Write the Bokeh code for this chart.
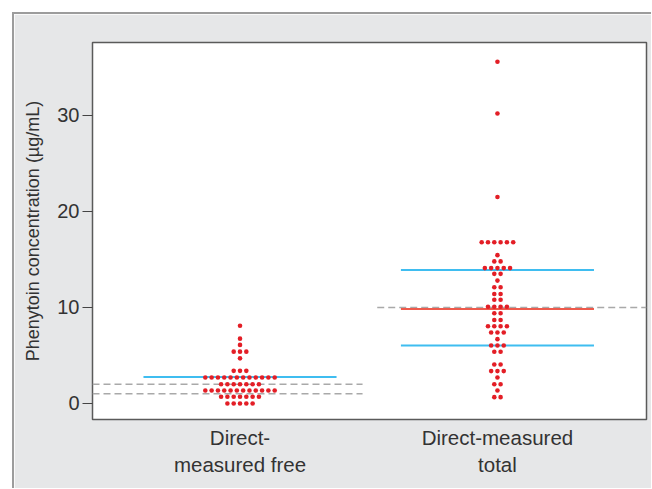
from bokeh.plotting import figure
from bokeh.models import FixedTicker, Range1d, Spacer
from bokeh.layouts import column, row
from bokeh.embed import file_html
from bokeh.resources import INLINE

# ---- data ----
categories = ["Direct-\nmeasured free", "Direct-measured\ntotal"]
free_values = ([8.1] + [6.75] + [6.1] + [5.4] * 3 + [4.7] + [3.4] * 3 + [2.7] * 12 +
               [2.0] * 7 + [1.35] * 12 + [0.7] * 7 + [0.0] * 5)
total_values = ([35.6] + [30.2] + [21.5] + [16.8] * 6 + [15.45] + [14.8] * 2 + [14.1] * 5 +
                [13.5] * 2 + [12.8] + [12.1] * 2 + [11.4] * 2 + [10.8] * 2 + [10.07] * 4 +
                [9.4] * 2 + [8.7] * 2 + [8.05] * 4 + [7.4] * 3 + [6.7] + [6.04] * 3 +
                [5.38] * 2 + [4.06] * 2 + [3.37] * 3 + [2.7] + [2.0] * 2 + [1.35] + [0.66] * 2)
free_center = [2.75]
total_center = [9.85]
total_quartiles = [6.05, 13.9]
free_reference = [1.0, 2.0]
total_reference = [10.0]
y_ticks = [0, 10, 20, 30]

DOT_STEP = 0.0245  # horizontal spacing of stacked dots in category units


def swarm(values, cat):
    xs, ys = [], []
    rows = {}
    for v in values:
        rows[v] = rows.get(v, 0) + 1
    for v, n in rows.items():
        for i in range(n):
            xs.append(cat + (i - (n - 1) / 2) * DOT_STEP)
            ys.append(v)
    return xs, ys


fx, fy = swarm(free_values, 1)
tx, ty = swarm(total_values, 2)

p = figure(width=639, height=476, output_backend="svg", toolbar_location=None,
           x_range=Range1d(0.427, 2.579), y_range=Range1d(-1.67, 37.6),
           min_border_left=78, min_border_top=28, min_border_right=7, min_border_bottom=71)
p.border_fill_color = "#e6e7e8"
p.background_fill_color = "white"
p.outline_line_color = "#5a5a5a"
p.outline_line_width = 1.5
p.grid.visible = False

HALF = 0.375
grey = "#a9a9a9"
for r in free_reference:
    p.segment(x0=[0.427], x1=[1.476], y0=[r], y1=[r], line_color=grey,
              line_width=1.5, line_dash="7 4")
for r in total_reference:
    p.segment(x0=[1.533], x1=[2.579], y0=[r], y1=[r], line_color=grey,
              line_width=1.5, line_dash="7 4")

cyan = "#3fbdf0"
p.segment(x0=[1 - HALF], x1=[1 + HALF], y0=free_center, y1=free_center,
          line_color=cyan, line_width=2)
p.segment(x0=[2 - HALF] * 2, x1=[2 + HALF] * 2, y0=total_quartiles, y1=total_quartiles,
          line_color=cyan, line_width=2)
p.segment(x0=[2 - HALF], x1=[2 + HALF], y0=total_center, y1=total_center,
          line_color="#ee5a4c", line_width=2)

p.scatter(fx + tx, fy + ty, size=4.6, fill_color="#e31e26", line_color=None)

ya = p.yaxis[0]
ya.ticker = FixedTicker(ticks=y_ticks)
ya.axis_line_color = None
ya.major_tick_out = 10
ya.major_tick_in = 0
ya.major_tick_line_color = "#444444"
ya.minor_tick_line_color = None
ya.major_label_text_font = "Liberation Sans"
ya.major_label_text_font_size = "20px"
ya.major_label_text_color = "#333333"
ya.major_label_standoff = 3
ya.axis_label = "Phenytoin concentration (µg/mL)"
ya.axis_label_text_font = "Liberation Sans"
ya.axis_label_text_font_size = "18px"
ya.axis_label_text_font_style = "normal"
ya.axis_label_text_color = "#333333"
ya.axis_label_standoff = 11

xa = p.xaxis[0]
xa.ticker = FixedTicker(ticks=[1, 2])
xa.major_label_overrides = {1: categories[0], 2: categories[1]}
xa.axis_line_color = None
xa.major_tick_line_color = None
xa.minor_tick_line_color = None
xa.major_label_text_font = "Liberation Sans"
xa.major_label_text_font_size = "20.5px"
xa.major_label_text_color = "#333333"
xa.major_label_standoff = 0

p.styles = {"border-top": "2px solid #9c9c9c", "border-left": "2px solid #9c9c9c"}

layout = column(Spacer(width=652, height=12),
                row(Spacer(width=12, height=476), p))

open("out.html", "w").write(file_html(layout, INLINE))
